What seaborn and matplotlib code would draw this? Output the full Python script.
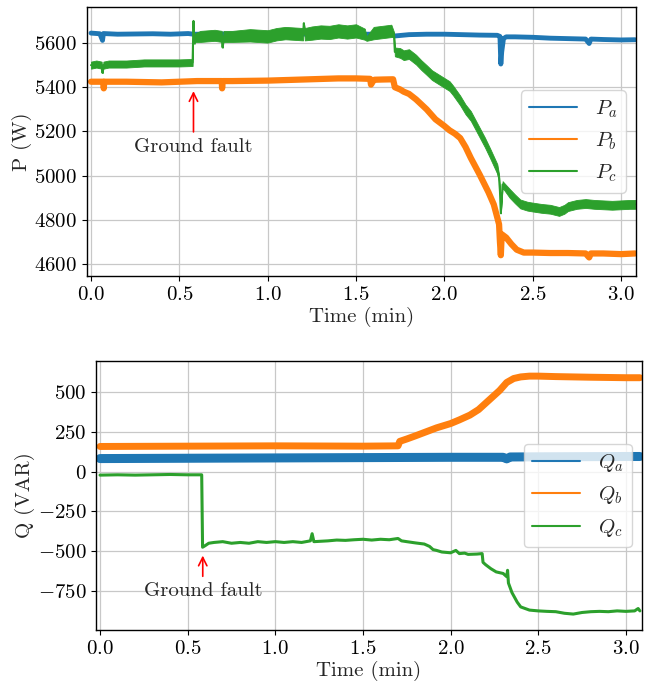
import pandas as pd
import seaborn as sns
import matplotlib.pyplot as plt

# ---- active power (W) ----
pa_t = [0, 0.05, 0.065, 0.07, 0.15, 0.25, 0.35, 0.45, 0.55, 0.58, 0.7, 0.9, 1.1, 1.3, 1.5,
        1.7, 1.72, 1.8, 1.9, 2.0, 2.1, 2.2, 2.3, 2.315, 2.32, 2.325, 2.335, 2.35, 2.4, 2.5,
        2.6, 2.7, 2.8, 2.82, 2.83, 2.9, 3.0, 3.08]
pa_v = [5645, 5642, 5612, 5643, 5640, 5641, 5642, 5640, 5643, 5640, 5640, 5642, 5640, 5641, 5640,
        5640, 5632, 5638, 5640, 5640, 5638, 5636, 5635, 5630, 5505, 5560, 5620, 5628, 5628, 5626,
        5622, 5620, 5618, 5598, 5618, 5616, 5614, 5615]

pb_t = [0, 0.07, 0.072, 0.075, 0.2, 0.4, 0.6, 0.74, 0.742, 0.745, 0.8, 1.0, 1.2, 1.4, 1.5,
        1.58, 1.585, 1.6, 1.605, 1.65, 1.71, 1.72, 1.75, 1.77, 1.8, 1.84, 1.9, 1.95, 2.0, 2.03,
        2.06, 2.09, 2.12, 2.15, 2.2, 2.25, 2.28, 2.3, 2.31, 2.315, 2.32, 2.325, 2.35, 2.38,
        2.41, 2.45, 2.5, 2.6, 2.7, 2.8, 2.82, 2.83, 2.9, 3.0, 3.08]
pb_v = [5425, 5425, 5395, 5425, 5425, 5422, 5428, 5428, 5395, 5428, 5428, 5430, 5435, 5440, 5440,
        5438, 5412, 5432, 5434, 5435, 5436, 5400, 5390, 5380, 5370, 5345, 5300, 5255, 5225, 5205,
        5190, 5170, 5130, 5080, 5005, 4925, 4870, 4810, 4780, 4700, 4640, 4735, 4720, 4690,
        4665, 4652, 4652, 4650, 4650, 4648, 4630, 4648, 4648, 4645, 4648]

pc_t = [0, 0.03, 0.06, 0.065, 0.07, 0.1, 0.2, 0.3, 0.4, 0.5, 0.575, 0.58, 0.585, 0.59, 0.62,
        0.7, 0.74, 0.745, 0.75, 0.8, 0.9, 1.0, 1.05, 1.1, 1.2, 1.205, 1.21, 1.25, 1.3, 1.35,
        1.4, 1.45, 1.5, 1.55, 1.56, 1.6, 1.65, 1.7, 1.715, 1.72, 1.75, 1.77, 1.8, 1.84, 1.87,
        1.9, 1.93, 1.96, 2.0, 2.03, 2.05, 2.09, 2.12, 2.15, 2.2, 2.23, 2.26, 2.3, 2.31, 2.315,
        2.32, 2.33, 2.37, 2.4, 2.43, 2.47, 2.5, 2.55, 2.6, 2.65, 2.68, 2.7, 2.75, 2.8, 2.85,
        2.9, 2.95, 3.0, 3.05, 3.08]
pc_v = [5500, 5505, 5500, 5465, 5500, 5505, 5505, 5510, 5510, 5510, 5512, 5700, 5600, 5625, 5630,
        5635, 5630, 5580, 5630, 5630, 5635, 5630, 5640, 5645, 5640, 5690, 5640, 5645, 5650, 5648,
        5655, 5650, 5655, 5640, 5620, 5645, 5650, 5655, 5640, 5560, 5555, 5545, 5550, 5525, 5500,
        5478, 5455, 5440, 5420, 5405, 5385, 5340, 5300, 5270, 5195, 5150, 5100, 5030, 4990, 4930,
        4830, 4960, 4920, 4895, 4872, 4862, 4858, 4852, 4848, 4838, 4848, 4860, 4870, 4874, 4870,
        4868, 4866, 4868, 4870, 4870]
# half width of the noise band around P_c
pc_spread = [16, 16, 16, 0, 16, 16, 16, 16, 16, 16, 16, 0, 5, 20, 25,
             25, 25, 0, 25, 25, 28, 28, 28, 28, 28, 0, 28, 30, 30, 30,
             30, 30, 30, 25, 10, 28, 28, 28, 10, 20, 22, 22, 22, 22, 22,
             22, 22, 22, 22, 22, 22, 22, 22, 22, 22, 22, 22, 22, 15, 5,
             0, 15, 20, 20, 20, 20, 20, 20, 20, 20, 20, 20, 20, 20, 20,
             20, 20, 20, 20, 20]

# ---- reactive power (VAR) ----
qa_t = [0, 0.5, 1.0, 1.5, 2.0, 2.3, 2.32, 2.34, 2.5, 3.0, 3.08]
qa_v = [82, 84, 86, 88, 90, 90, 80, 92, 93, 95, 95]

qb_t = [0, 0.5, 1.0, 1.5, 1.7, 1.71, 1.75, 1.8, 1.86, 1.92, 2.0, 2.05, 2.11, 2.16, 2.2, 2.24,
        2.28, 2.32, 2.36, 2.4, 2.45, 2.5, 2.6, 2.8, 3.0, 3.08]
qb_v = [158, 160, 162, 160, 162, 190, 205, 225, 250, 275, 302, 325, 355, 390, 430, 470,
        510, 560, 585, 595, 600, 600, 597, 593, 590, 590]

qc_t = [0, 0.1, 0.2, 0.3, 0.4, 0.5, 0.58, 0.585, 0.6, 0.62, 0.65, 0.7, 0.75, 0.8, 0.85, 0.9,
        0.95, 1.0, 1.05, 1.1, 1.15, 1.2, 1.21, 1.22, 1.3, 1.35, 1.4, 1.45, 1.5, 1.55, 1.6, 1.65,
        1.7, 1.72, 1.75, 1.8, 1.85, 1.88, 1.9, 1.92, 1.95, 2.0, 2.03, 2.05, 2.08, 2.1, 2.15,
        2.18, 2.185, 2.2, 2.23, 2.26, 2.3, 2.32, 2.325, 2.33, 2.35, 2.38, 2.4, 2.45, 2.5, 2.55,
        2.6, 2.65, 2.7, 2.75, 2.8, 2.85, 2.9, 2.95, 3.0, 3.05, 3.07, 3.08]
qc_v = [-22, -20, -22, -20, -18, -20, -20, -475, -465, -450, -445, -440, -450, -445, -450, -440,
        -445, -440, -445, -440, -445, -435, -390, -440, -435, -430, -432, -428, -425, -430, -425, -428,
        -420, -435, -440, -448, -455, -470, -490, -495, -505, -510, -495, -515, -512, -520, -518,
        -515, -570, -585, -610, -630, -640, -660, -620, -700, -760, -820, -850, -870, -875, -878,
        -880, -890, -895, -885, -880, -878, -880, -875, -878, -875, -860, -875]

colors = ['#1f77b4', '#ff7f0e', '#2ca02c']

sns.set_theme(style='ticks')
plt.rcParams['font.family'] = 'serif'
plt.rcParams['font.serif'] = ['cmr10']
plt.rcParams['mathtext.fontset'] = 'cm'
plt.rcParams['axes.formatter.use_mathtext'] = True
plt.rcParams['axes.unicode_minus'] = True
plt.rcParams['font.size'] = 15

fig = plt.figure(figsize=(6.5, 6.81), dpi=100)
ax1 = fig.add_axes([0.1338, 0.5947, 0.8446, 0.395])
ax2 = fig.add_axes([0.1477, 0.0749, 0.84, 0.395])


def draw(ax, series, labels, widths):
    for (t, v), lab, c, lw in zip(series, labels, colors, widths):
        df = pd.DataFrame({'t': t, 'v': v})
        sns.lineplot(data=df, x='t', y='v', ax=ax, color=c, linewidth=lw, label=lab,
                     sort=False, estimator=None)


draw(ax1, [(pa_t, pa_v), (pb_t, pb_v), (pc_t, pc_v)],
     [r'$P_a$', r'$P_b$', r'$P_c$'], [3.5, 4.5, 1.5])
pc_df = pd.DataFrame({'t': pc_t, 'v': pc_v, 's': pc_spread})
ax1.fill_between(pc_df['t'], pc_df['v'] - pc_df['s'], pc_df['v'] + pc_df['s'],
                 color=colors[2], linewidth=0.6, zorder=2.5)

draw(ax2, [(qa_t, qa_v), (qb_t, qb_v), (qc_t, qc_v)],
     [r'$Q_a$', r'$Q_b$', r'$Q_c$'], [6.5, 5.0, 2.2])

for ax in (ax1, ax2):
    ax.grid(True, color='#c8c8c8', linewidth=0.9)
    ax.set_xlabel('Time (min)', fontsize=15, labelpad=2)
    ax.tick_params(labelsize=15, length=3.5, width=0.8, colors='black')
    ax.set_xticks([0.0, 0.5, 1.0, 1.5, 2.0, 2.5, 3.0])
    for s in ax.spines.values():
        s.set_color('black')
        s.set_linewidth(1.0)
    leg = ax.legend(loc='center right', fontsize=15, handlelength=2.3, handletextpad=0.85)
    leg.set_zorder(5)
    for line in leg.get_lines():
        line.set_linewidth(1.5)

ax1.set_xlim(-0.023, 3.085)
ax1.set_ylim(4546, 5763)
ax1.set_yticks([4600, 4800, 5000, 5200, 5400, 5600])
ax1.set_ylabel('P (W)', fontsize=15, labelpad=2)
ax1.annotate('Ground fault', xy=(0.58, 5395), xytext=(0.58, 5130), ha='center', va='center',
             fontsize=15, arrowprops=dict(arrowstyle='->', color='red', lw=1.2))

ax2.set_xlim(-0.023, 3.092)
ax2.set_ylim(-995, 695)
ax2.set_yticks([-750, -500, -250, 0, 250, 500])
ax2.set_ylabel('Q (VAR)', fontsize=15, labelpad=2)
ax2.annotate('Ground fault', xy=(0.586, -510), xytext=(0.586, -752), ha='center', va='center',
             fontsize=15, arrowprops=dict(arrowstyle='->', color='red', lw=1.2))

fig.savefig('out.png', dpi=100)
